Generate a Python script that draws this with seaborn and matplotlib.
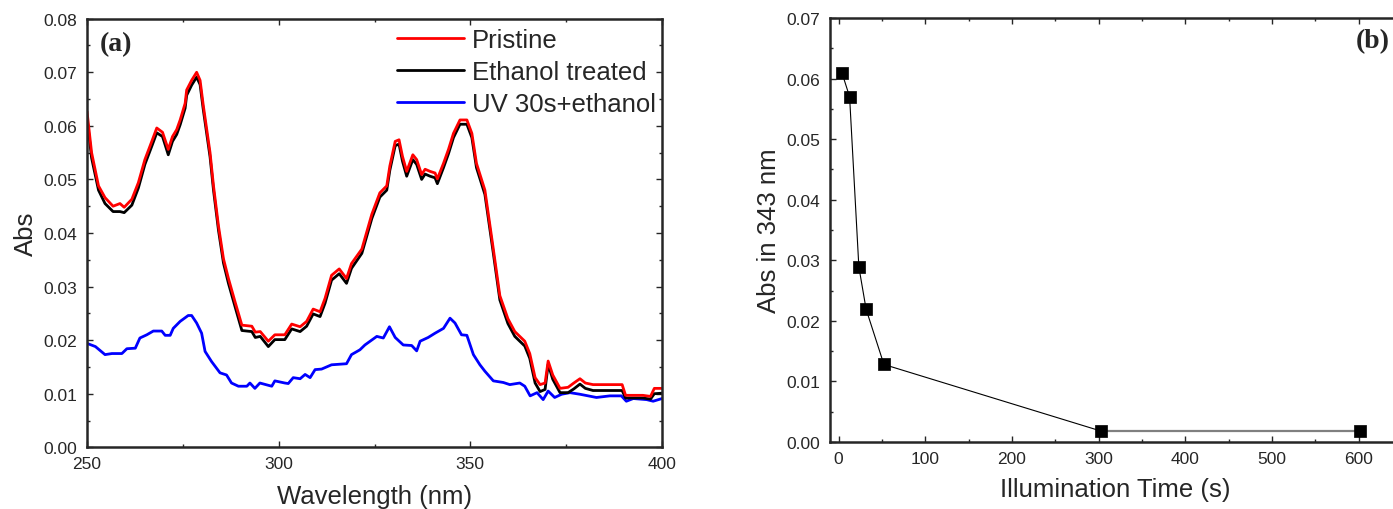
import numpy as np
import pandas as pd
import matplotlib
matplotlib.use("Agg")
import matplotlib.pyplot as plt
import seaborn as sns
from matplotlib.ticker import MultipleLocator

# ---------------- data: panel (a) spectra ----------------
wl_a = [250, 251.2, 253, 254.7, 256.8, 258.6, 259.7, 261.7, 263.4, 265.1, 266.9, 268.2, 269.7, 271.2,
        272.3, 273.4, 274.3, 275.6, 276, 277.3, 278.6, 279.5, 280.3, 282.1, 283, 284.3, 285.6, 286.9,
        288.6, 290.4, 293, 293.9, 295.2, 297.3, 299, 301.6, 303.4, 305.6, 307.3, 309, 310.8, 312.1,
        313.8, 315.8, 317.7, 319, 321.7, 324.3, 326.4, 328.2, 329, 330.4, 331.4, 332.3, 333.4, 335,
        336, 337.3, 338.2, 339.5, 340.8, 341.4, 343, 344.3, 345.6, 347.3, 349.1, 350.4, 351.6, 353.8,
        356, 357.7, 359.8, 361.6, 364.2, 365.5, 366.9, 368.2, 369.5, 370.3, 371.5, 373.4, 375.5, 377,
        378.6, 380, 382, 386, 389.6, 390.5, 395, 397, 398, 400]
pristine = [0.0627, 0.055, 0.0488, 0.0466, 0.045, 0.0455, 0.0448, 0.0463, 0.0494, 0.0537, 0.0571,
            0.0596, 0.0588, 0.0556, 0.058, 0.0593, 0.0611, 0.0642, 0.0667, 0.0685, 0.0700, 0.0685,
            0.064, 0.055, 0.0488, 0.0413, 0.0352, 0.0315, 0.0272, 0.0228, 0.0226, 0.0215, 0.0216,
            0.0198, 0.021, 0.021, 0.023, 0.0225, 0.0235, 0.0258, 0.0253, 0.0278, 0.0321, 0.0333,
            0.0315, 0.0343, 0.037, 0.0435, 0.0475, 0.0488, 0.0525, 0.0571, 0.0574, 0.0543, 0.0515,
            0.0546, 0.0537, 0.0509, 0.0519, 0.0515, 0.0512, 0.0501, 0.053, 0.0556, 0.0586, 0.0611,
            0.0611, 0.0586, 0.053, 0.048, 0.037, 0.0283, 0.024, 0.0216, 0.0198, 0.0175, 0.013,
            0.0117, 0.012, 0.0161, 0.0135, 0.011, 0.0112, 0.012, 0.0128, 0.012, 0.0117, 0.0117,
            0.0117, 0.0097, 0.0097, 0.0095, 0.011, 0.011]
ethanol = [0.0615, 0.054, 0.048, 0.0455, 0.044, 0.044, 0.0438, 0.0452, 0.0484, 0.0528, 0.0562,
           0.0587, 0.058, 0.0546, 0.0571, 0.0584, 0.0602, 0.0633, 0.0657, 0.0676, 0.0691, 0.0677,
           0.0632, 0.0542, 0.048, 0.0405, 0.0344, 0.0306, 0.0263, 0.0218, 0.0216, 0.0205, 0.0207,
           0.0188, 0.0201, 0.0201, 0.0221, 0.0216, 0.0226, 0.0249, 0.0244, 0.0269, 0.0312, 0.0324,
           0.0306, 0.0334, 0.0362, 0.0427, 0.0467, 0.048, 0.0517, 0.0563, 0.0566, 0.0534, 0.0506,
           0.0537, 0.0528, 0.05, 0.051, 0.0506, 0.0503, 0.0492, 0.0522, 0.0548, 0.0578, 0.0603,
           0.0603, 0.0578, 0.0522, 0.0472, 0.0362, 0.0275, 0.0231, 0.0207, 0.0189, 0.0166, 0.012,
           0.0104, 0.0108, 0.0155, 0.0127, 0.0102, 0.0102, 0.0109, 0.0118, 0.011, 0.0106, 0.0106,
           0.0106, 0.0092, 0.0092, 0.009, 0.01, 0.0101]

wl_b = [250, 252.2, 254.7, 256.5, 259.1, 260.4, 262.6, 263.8, 265.6, 267.3, 269.5, 270.4, 271.7,
        272.5, 274.3, 276.4, 277.3, 278.6, 279.9, 280.8, 282.5, 284.7, 286.4, 287.7, 289.5, 291.7,
        292.5, 293.8, 295.1, 298.2, 299, 301.6, 302.5, 303.8, 305.6, 306.9, 308.2, 309.5, 311.2,
        313.8, 317.7, 319, 321.2, 322.5, 325.6, 327.3, 328.9, 330.4, 332.5, 334.7, 336, 336.9, 339,
        340.8, 343, 344.7, 346, 347.7, 349.1, 350.8, 352.5, 353.8, 356, 358.6, 360.3, 362.9, 364.2,
        365.6, 367.4, 369, 370.3, 372, 373.8, 376, 378.6, 382.9, 386.4, 389.4, 390.7, 392.5, 396,
        397.7, 400]
uv_ethanol = [0.0194, 0.0188, 0.0173, 0.0175, 0.0175, 0.0184, 0.0185, 0.0204, 0.021, 0.0217, 0.0217,
              0.0209, 0.0209, 0.0222, 0.0235, 0.0246, 0.0246, 0.0232, 0.0213, 0.0179, 0.016, 0.0139,
              0.0135, 0.012, 0.0114, 0.0114, 0.012, 0.011, 0.012, 0.0114, 0.0124, 0.012, 0.0119,
              0.013, 0.0128, 0.0136, 0.013, 0.0145, 0.0146, 0.0154, 0.0156, 0.0173, 0.0182, 0.0191,
              0.0207, 0.0204, 0.0225, 0.0205, 0.0191, 0.019, 0.018, 0.0198, 0.0205, 0.0213, 0.0222,
              0.0241, 0.0232, 0.021, 0.0209, 0.0173, 0.0154, 0.0142, 0.0124, 0.0121, 0.0117, 0.012,
              0.0114, 0.0096, 0.0102, 0.0089, 0.0105, 0.0093, 0.0099, 0.0102, 0.0099, 0.0093, 0.0096,
              0.0096, 0.0086, 0.0091, 0.0089, 0.0086, 0.0091]

series_labels = ["Pristine", "Ethanol treated", "UV 30s+ethanol"]

# ---------------- data: panel (b) ----------------
time_s = [3.7, 12.6, 23.3, 31.7, 52.2, 302.8, 600.9]
abs_343 = [0.0610, 0.0570, 0.0289, 0.0219, 0.0128, 0.0018, 0.0018]

# ---------------- style ----------------
sns.set_style("ticks")
plt.rcParams["font.family"] = ["Liberation Sans", "DejaVu Sans"]
plt.rcParams.update({
    "xtick.direction": "in", "ytick.direction": "in",
    "xtick.top": True, "ytick.right": True,
    "xtick.minor.visible": True, "ytick.minor.visible": True,
    "xtick.major.size": 4.5, "ytick.major.size": 4.5,
    "xtick.minor.size": 2.5, "ytick.minor.size": 2.5,
    "xtick.major.width": 1.0, "ytick.major.width": 1.0,
    "xtick.minor.width": 1.0, "ytick.minor.width": 1.0,
    "xtick.major.pad": 6.5, "ytick.major.pad": 7,
    "axes.linewidth": 1.8,
    "xtick.labelsize": 12.5, "ytick.labelsize": 12.5,
})

W, H = 1393, 510
fig = plt.figure(figsize=(W / 100, H / 100), dpi=100)

def frac(l, t, r, b):
    return [l / W, 1 - b / H, (r - l) / W, (b - t) / H]

# ---------------- panel (a) ----------------
ax1 = fig.add_axes(frac(87, 19.7, 662, 448.3))
df_p = pd.DataFrame({"wl": wl_a, "v": pristine})
df_e = pd.DataFrame({"wl": wl_a, "v": ethanol})
df_u = pd.DataFrame({"wl": wl_b, "v": uv_ethanol})
sns.lineplot(data=df_u, x="wl", y="v", ax=ax1, color="#0000ff", lw=2.0, label=series_labels[2],
             estimator=None, sort=False)
sns.lineplot(data=df_e, x="wl", y="v", ax=ax1, color="black", lw=2.0, label=series_labels[1],
             estimator=None, sort=False)
sns.lineplot(data=df_p, x="wl", y="v", ax=ax1, color="#ff0000", lw=2.0, label=series_labels[0],
             estimator=None, sort=False)
ax1.set_xlim(250, 400)
ax1.set_ylim(0, 0.08)
ax1.xaxis.set_major_locator(MultipleLocator(50))
ax1.xaxis.set_minor_locator(MultipleLocator(25))
ax1.yaxis.set_major_locator(MultipleLocator(0.01))
ax1.yaxis.set_minor_locator(MultipleLocator(0.005))
ax1.yaxis.set_major_formatter(matplotlib.ticker.FormatStrFormatter("%.2f"))
ax1.set_xlabel("Wavelength (nm)", fontsize=18.5, labelpad=9)
ax1.set_ylabel("Abs", fontsize=18.5, labelpad=4)
h, l = ax1.get_legend_handles_labels()
order = [2, 1, 0]
ax1.legend([h[i] for i in order], [l[i] for i in order], loc="upper right",
           bbox_to_anchor=(1.02, 1.02), frameon=False, fontsize=18.5, handlelength=2.6,
           handletextpad=0.3, labelspacing=0.3, borderpad=0.2)
ax1.text(0.022, 0.97, "(a)", transform=ax1.transAxes, ha="left", va="top",
         fontsize=20, fontweight="bold", family=["Liberation Serif", "DejaVu Serif"])

# ---------------- panel (b) ----------------
ax2 = fig.add_axes(frac(830, 19, 1400, 443))
df_b = pd.DataFrame({"t": time_s, "a": abs_343})
sns.lineplot(data=df_b.iloc[:6], x="t", y="a", ax=ax2, color="black", lw=0.8,
             estimator=None, sort=False)
sns.lineplot(data=df_b.iloc[5:], x="t", y="a", ax=ax2, color="#808080", lw=1.6,
             estimator=None, sort=False)
sns.scatterplot(data=df_b, x="t", y="a", ax=ax2, marker="s", s=85, color="black",
                edgecolor="black", linewidth=0.5, zorder=5)
ax2.set_xlim(-10, 647.6)
ax2.set_ylim(0, 0.07)
ax2.xaxis.set_major_locator(MultipleLocator(100))
ax2.xaxis.set_minor_locator(MultipleLocator(50))
ax2.yaxis.set_major_locator(MultipleLocator(0.01))
ax2.yaxis.set_minor_locator(MultipleLocator(0.005))
ax2.yaxis.set_major_formatter(matplotlib.ticker.FormatStrFormatter("%.2f"))
ax2.set_xlabel("Illumination Time (s)", fontsize=18.5, labelpad=8)
ax2.set_ylabel("Abs in 343 nm", fontsize=18.5, labelpad=4)
fig.text(1373 / W, 1 - 42 / H, "(b)", ha="center", va="center", fontsize=20,
         fontweight="bold", family=["Liberation Serif", "DejaVu Serif"])

fig.savefig("out.png", dpi=100)
